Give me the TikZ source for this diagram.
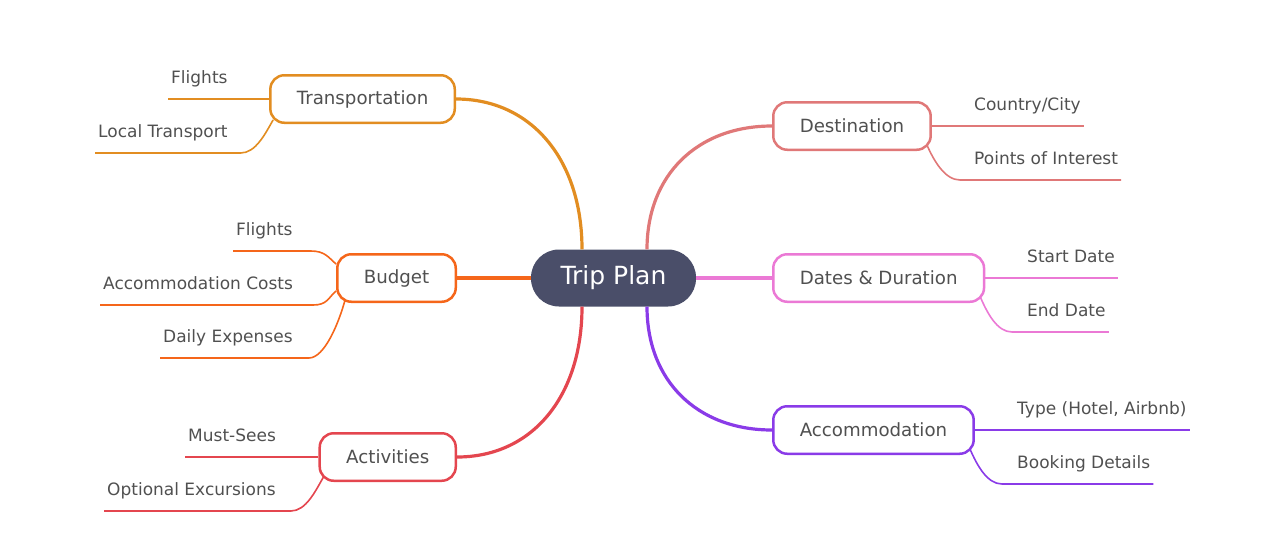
\documentclass[tikz,border=0pt]{standalone}
\usepackage{fontspec}
\setmainfont{DejaVu Sans}
\usepackage{tikz}

\definecolor{rootfill}{HTML}{4A4E69}
\definecolor{txt}{HTML}{505050}
\definecolor{ctrans}{HTML}{E28D21}
\definecolor{cbudget}{HTML}{F5661A}
\definecolor{cact}{HTML}{E4464F}
\definecolor{cdest}{HTML}{E07878}
\definecolor{cdates}{HTML}{EB79D5}
\definecolor{cacc}{HTML}{8A3BE8}

\tikzset{
  topic/.style={draw=#1, line width=2.5pt, fill=white, rounded corners=14pt,
    minimum height=47.5pt, inner xsep=26.5pt, text=txt, font=\fontsize{18.2}{21}\selectfont},
  leaf/.style={anchor=south west, inner xsep=3pt, inner ysep=0pt,
    text height=13pt, text depth=15.5pt, text=txt, font=\fontsize{17}{20}\selectfont},
  branch/.style={draw=#1, line width=3.2pt},
  twig/.style={draw=#1, line width=1.6pt},
}

\begin{document}
\begin{tikzpicture}[x=1pt,y=1pt]
 \useasboundingbox (0,0) rectangle (1284,-555);
 % centre
 \node[fill=rootfill, rounded corners=28pt, minimum width=165pt, minimum height=57pt,
   inner sep=0pt, text=white, font=\fontsize{25}{29}\selectfont] (root) at (613.5,-278) {Trip Plan};
 % topics
 \node[topic=ctrans, anchor=east] (T) at (456,-99) {Transportation};
 \node[topic=cbudget, anchor=east] (B) at (457,-278) {Budget};
 \node[topic=cact, anchor=east] (A) at (457,-457) {Activities};
 \node[topic=cdest, anchor=west] (D) at (772,-126) {Destination};
 \node[topic=cdates, anchor=west] (S) at (772,-278) {Dates \& Duration};
 \node[topic=cacc, anchor=west] (M) at (772,-430) {Accommodation};
 % branches
 \draw[branch=ctrans] ([xshift=-31.5pt]root.north) .. controls +(0,90) and +(75,0) .. (T.east);
 \draw[branch=cbudget] (root.west) -- (B.east);
 \draw[branch=cact] ([xshift=-31.5pt]root.south) .. controls +(0,-90) and +(75,0) .. (A.east);
 \draw[branch=cdest] ([xshift=33.5pt]root.north) .. controls +(0,74) and +(-75,0) .. (D.west);
 \draw[branch=cdates] (root.east) -- (S.west);
 \draw[branch=cacc] ([xshift=33.5pt]root.south) .. controls +(0,-74) and +(-75,0) .. (M.west);
 % leaves, left
 \node[leaf] (tFl) at (168,-99) {Flights};
 \node[leaf] (tLo) at (95,-153) {Local Transport};
 \draw[twig=ctrans] (tFl.south west) -- (T.west);
 \draw[twig=ctrans] (tLo.south west) -- ([xshift=10pt]tLo.south east) .. controls +(15,0) and +(-8,-14) .. ([shift={(4,4)}]T.south west);
 \node[leaf] (bFl) at (233,-251) {Flights};
 \node[leaf] (bAc) at (100,-305) {Accommodation Costs};
 \node[leaf] (bDa) at (160,-358) {Daily Expenses};
 \draw[twig=cbudget] (bFl.south west) -- ([xshift=15pt]bFl.south east) .. controls +(14,0) and +(-8,7) .. ([yshift=14pt]B.west);
 \draw[twig=cbudget] (bAc.south west) -- ([xshift=17pt]bAc.south east) .. controls +(14,0) and +(-8,-7) .. ([yshift=-13pt]B.west);
 \draw[twig=cbudget] (bDa.south west) -- ([xshift=13pt]bDa.south east) .. controls +(16,0) and +(-6,-22) .. ([shift={(9,3)}]B.south west);
 \node[leaf] (aMu) at (185,-457) {Must-Sees};
 \node[leaf] (aOp) at (104,-511) {Optional Excursions};
 \draw[twig=cact] (aMu.south west) -- (A.west);
 \draw[twig=cact] (aOp.south west) -- ([xshift=12pt]aOp.south east) .. controls +(15,0) and +(-8,-14) .. ([shift={(5,5)}]A.south west);
 % leaves, right
 \node[leaf] (dCo) at (971,-126) {Country/City};
 \node[leaf] (dPo) at (971,-180) {Points of Interest};
 \draw[twig=cdest] (D.east) -- (dCo.south east);
 \draw[twig=cdest] ([shift={(-5,6)}]D.south east) .. controls +(7,-16) and +(-15,0) .. ([xshift=-11pt]dPo.south west) -- (dPo.south east);
 \node[leaf] (sSt) at (1024,-278) {Start Date};
 \node[leaf] (sEn) at (1024,-332) {End Date};
 \draw[twig=cdates] (S.east) -- (sSt.south east);
 \draw[twig=cdates] ([shift={(-5,6)}]S.south east) .. controls +(7,-16) and +(-15,0) .. ([xshift=-12pt]sEn.south west) -- (sEn.south east);
 \node[leaf] (mTy) at (1014,-430) {Type (Hotel, Airbnb)};
 \node[leaf] (mBo) at (1014,-484) {Booking Details};
 \draw[twig=cacc] (M.east) -- (mTy.south east);
 \draw[twig=cacc] ([shift={(-5,6)}]M.south east) .. controls +(7,-16) and +(-15,0) .. ([xshift=-12pt]mBo.south west) -- (mBo.south east);
\end{tikzpicture}
\end{document}
